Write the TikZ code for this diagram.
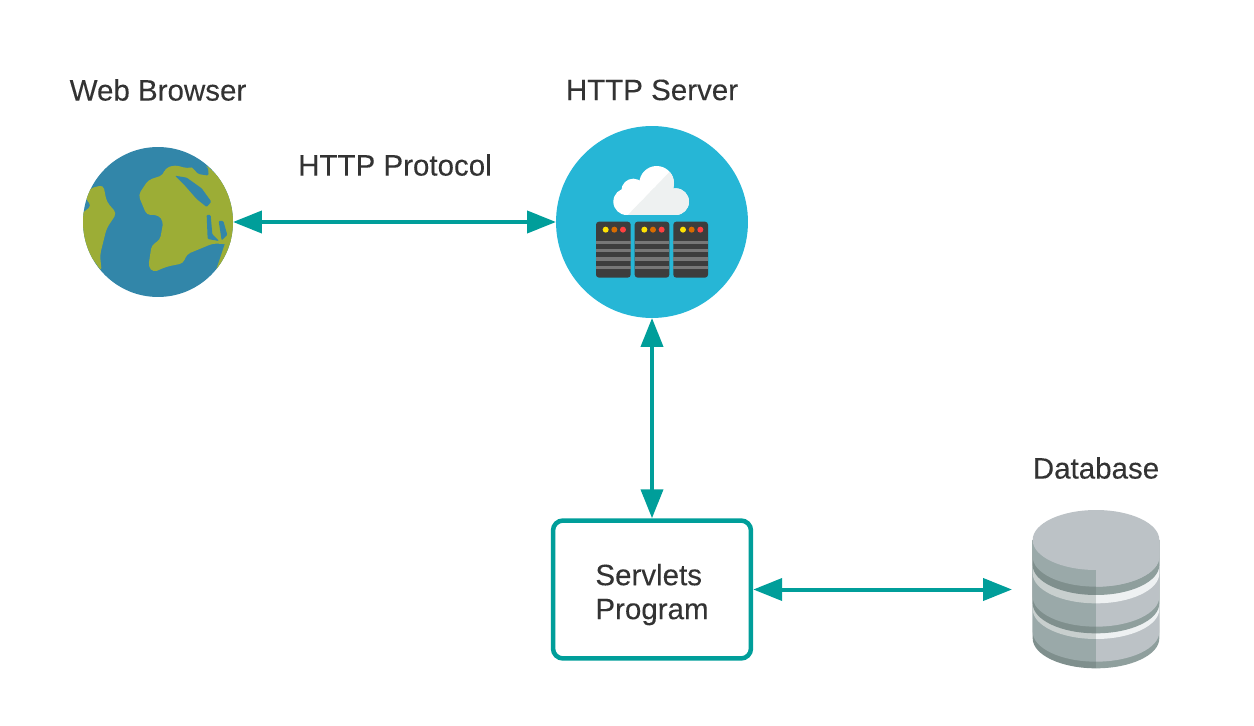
\documentclass[tikz,border=0pt]{standalone}
\usepackage{fontspec}
\setmainfont[FakeBold=0.15]{Liberation Sans}
\usetikzlibrary{arrows.meta}
\definecolor{linkteal}{HTML}{009E9A}
\definecolor{labelgrey}{HTML}{333333}
\definecolor{globesea}{HTML}{3286A9}
\definecolor{globeland}{HTML}{9CAD36}
\definecolor{serversky}{HTML}{26B6D6}
\definecolor{cloudgrey}{HTML}{EEF1F1}
\definecolor{rackdark}{HTML}{3D3D3D}
\definecolor{rackstripe}{HTML}{777777}
\definecolor{dbtop}{HTML}{BCC2C6}
\definecolor{dbleft}{HTML}{9AA9A9}
\definecolor{dbbandl}{HTML}{7F8F8D}
\definecolor{dbbandr}{HTML}{8F9F9D}
\definecolor{dbgapl}{HTML}{C8CFCE}
\definecolor{dbgapr}{HTML}{EEF1F2}
\tikzset{
  termlabel/.style={text=labelgrey,inner sep=0pt,font=\fontsize{16.8}{19.3}\selectfont},
  linkline/.style={draw=linkteal,line width=0.08cm,
    {Triangle[length=0.58cm,width=0.44cm]}-{Triangle[length=0.58cm,width=0.44cm]}},
  progbox/.style={draw=linkteal,line width=0.09cm,rounded corners=0.2cm,fill=white,
    minimum width=3.96cm,minimum height=2.76cm,align=left},
  iconball/.style={circle,inner sep=0pt,outer sep=0pt}
}
\newcommand{\cloudshape}[1]{%
\fill[#1] (245,245) circle (40) (265,212) circle (36) (335,190) circle (52) (392,245) circle (40);
\fill[#1] (245,240) rectangle (392,285);
\fill[#1] (265,205) rectangle (380,250);}
% one layer of the drum, lying under the layers drawn after it
\newcommand{\dbslice}[3]{%
\fill[#2] (228,105) -- (38,105) -- (38,#1) arc[start angle=180,end angle=90,x radius=190,y radius=90] -- cycle;
\fill[#3] (228,105) -- (418,105) -- (418,#1) arc[start angle=0,end angle=90,x radius=190,y radius=90] -- cycle;}
\begin{document}
\begin{tikzpicture}[x=0.02cm,y=-0.02cm]
\useasboundingbox (0,0) rectangle (1254,726);
% globe
\node[iconball,fill=globesea,minimum size=3cm] (browser) at (158,222) {};
\begin{scope}[shift={(70,135)},x=0.0066667cm,y=-0.0066667cm]
\clip (264,261) circle (225);
\fill[globeland,rounded corners=0.08cm] (205,180) -- (235,135) -- (280,120) -- (285,100) -- (315,90) -- (350,100) -- (410,90) -- (520,200) -- (500,330) -- (430,325) -- (350,358) -- (340,385) -- (290,395) -- (250,412) -- (235,395) -- (245,330) -- (270,315) -- (280,260) -- (265,240) -- (230,240) -- cycle;
\fill[globeland] (470,310) -- (500,310) -- (450,420) -- (430,430) -- cycle;
\fill[globesea,rounded corners=0.02cm] (315,122) -- (350,128) -- (395,160) -- (424,200) -- (410,216) -- (380,192) -- (345,152) -- cycle;
\fill[globesea,rounded corners=0.03cm] (355,85) -- (385,76) -- (414,98) -- (416,122) -- (385,117) -- cycle;
\fill[globesea,rounded corners=0.02cm] (410,240) -- (422,240) -- (427,298) -- (447,318) -- (413,312) -- cycle;
\fill[globesea,rounded corners=0.02cm] (446,258) -- (460,258) -- (472,300) -- (455,316) -- cycle;
\fill[globeland,rounded corners=0.08cm] (30,240) -- (65,212) -- (45,190) -- (60,160) -- (100,150) -- (110,200) -- (140,235) -- (110,280) -- (90,360) -- (95,410) -- (60,360) -- (30,300) -- cycle;
\end{scope}
% server
\node[iconball,fill=serversky,minimum size=3.84cm] (server) at (652,222) {};
\begin{scope}[shift={(545,120)},x=0.0066667cm,y=-0.0066667cm]
\cloudshape{white}
\begin{scope}
\clip (408,120) -- (460,120) -- (460,300) -- (235,300) -- cycle;
\cloudshape{cloudgrey}
\end{scope}
\foreach \rackx in {153,269,385} {
  \fill[rackdark,rounded corners=0.06cm] (\rackx,305) rectangle ++(104,168);
  \foreach \stripey in {362,387,412,437}
    \fill[rackstripe] (\rackx,\stripey) rectangle ++(104,10);
  \fill[yellow!85!orange] (\rackx+29,329) circle (9);
  \fill[orange!85!black] (\rackx+55,329) circle (9);
  \fill[red!75!white] (\rackx+81,329) circle (9);
}
\end{scope}
% database
\begin{scope}[shift={(1020,505)},x=0.0066667cm,y=-0.0066667cm]
\dbslice{400}{dbbandl}{dbbandr}
\dbslice{380}{dbleft}{dbtop}
\dbslice{312}{dbgapl}{dbgapr}
\dbslice{295}{dbbandl}{dbbandr}
\dbslice{275}{dbleft}{dbtop}
\dbslice{205}{dbgapl}{dbgapr}
\dbslice{180}{dbbandl}{dbbandr}
\dbslice{155}{dbleft}{dbtop}
\fill[dbtop] (228,105) ellipse (190 and 90);
\fill[dbtop] (228,105) -- (418,105) -- (418,155) arc[start angle=0,end angle=90,x radius=190,y radius=90] -- cycle;
\end{scope}
\coordinate (dbport) at (1012,589.5);
% boxes and labels
\node[progbox,termlabel] (servlets) at (652,589.5) {\rule{0pt}{0.63cm}Servlets\\Program};
\node[termlabel] (browserlabel) at (158,90) {Web Browser};
\node[termlabel] (serverlabel) at (652,90) {HTTP Server};
\node[termlabel] (protocollabel) at (395,165) {HTTP Protocol};
\node[termlabel] (dblabel) at (1096,468) {Database};
% links
\draw[linkline] (browser.east) -- (server.west);
\draw[linkline] (server.south) -- (servlets.north);
\draw[linkline] (servlets.east) -- (dbport);
\end{tikzpicture}
\end{document}
